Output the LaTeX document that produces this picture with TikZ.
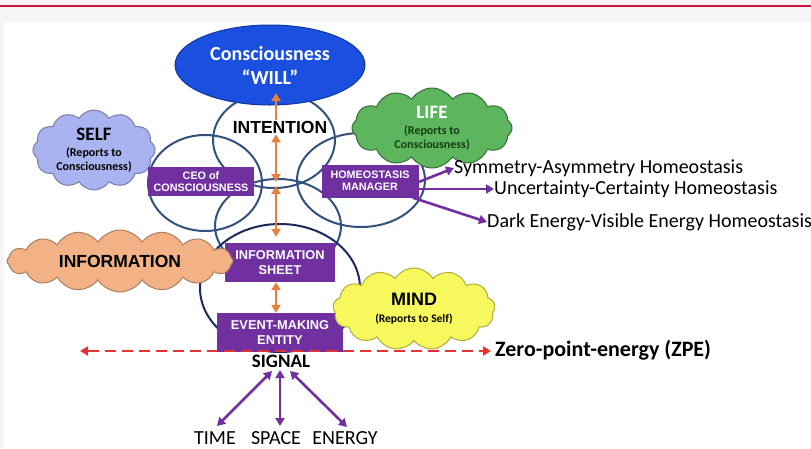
\documentclass[tikz,border=0pt]{standalone}
\usepackage{fontspec}
\setmainfont{Carlito}
\newfontfamily\arialf{Liberation Sans}
\usetikzlibrary{shapes.symbols,shapes.geometric,arrows.meta}
\definecolor{purp}{HTML}{7030A0}
\definecolor{orng}{HTML}{E8803C}
\definecolor{ringc}{HTML}{34507E}
\definecolor{bigc}{HTML}{1C2A5E}
\definecolor{willc}{HTML}{1A4FE0}
\definecolor{selfc}{HTML}{A9B3F0}
\definecolor{lifec}{HTML}{5DB55D}
\definecolor{lifet}{HTML}{163C16}
\definecolor{infoc}{HTML}{F2B285}
\definecolor{mindc}{HTML}{F7F75E}
\definecolor{zpec}{HTML}{E03434}
\definecolor{topc}{HTML}{C8143E}
\definecolor{bandc}{HTML}{F6F4F5}
\tikzset{
  >={Triangle[length=8pt,width=9pt]},
  ring/.style={ellipse, draw=ringc, line width=2pt, inner sep=0pt},
  pbox/.style={rectangle, fill=purp, text=white, font=\arialf\bfseries\fontsize{10.8}{12.5}\selectfont, align=center, inner sep=0pt},
  pboxl/.style={pbox, font=\arialf\bfseries\fontsize{12.8}{15}\selectfont},
  puff/.style={cloud, cloud puffs=12, cloud puff arc=115, cloud ignores aspect, align=center, line width=1pt, inner sep=0pt},
  oarrow/.style={draw=orng, line width=2.8pt},
  parrow/.style={draw=purp, line width=2.6pt},
  htext/.style={font=\fontsize{20}{24}\selectfont, anchor=west, inner sep=0pt},
  btext/.style={font=\fontsize{20}{22}\selectfont, inner sep=0pt},
}
\begin{document}
\begin{tikzpicture}[x=1pt,y=-1pt]
\useasboundingbox (0,0) rectangle (811,448);
\fill[bandc] (0,0) rectangle (811,448);
\fill[white] (4,22) rectangle (811,448);
\draw[topc, line width=1.5pt] (0,6) -- (811,6);

% SELF cloud (behind rings)
\node[puff, fill=selfc, draw=selfc!70!black, minimum width=122pt, minimum height=80pt,
      font=\bfseries\fontsize{12}{13.5}\selectfont] (self) at (94,150)
  {{\fontsize{19}{20}\selectfont SELF}\\[3pt](Reports to\\Consciousness)};

% rings
\node[ring, minimum width=122pt, minimum height=96pt] (rtop) at (274,140) {};
\node[ring, minimum width=114pt, minimum height=96pt] (rleft) at (205,183) {};
\node[ring, minimum width=128pt, minimum height=94pt] (rright) at (361,180) {};
\node[ring, minimum width=126pt, minimum height=94pt] (rlow) at (278,226) {};
\node[ellipse, draw=bigc, line width=2pt, minimum width=160pt, minimum height=128pt] (big) at (280,288) {};

% consciousness ellipse
\node[ellipse, fill=willc, draw=willc!70!black, line width=1pt, minimum width=190pt, minimum height=80pt,
      align=center, text=white, inner sep=0pt, font=\bfseries\fontsize{20}{24}\selectfont] (will) at (270,65)
  {Consciousness\\``WILL''};

% purple boxes
\node[pbox, minimum width=106pt, minimum height=29pt] (ceo) at (201,181.5) {CEO of\\CONSCIOUSNESS};
\node[pbox, minimum width=97pt, minimum height=33pt] (hm) at (370,181) {HOMEOSTASIS\\MANAGER};
\node[pboxl, minimum width=110pt, minimum height=39pt] (info) at (280,262.5) {INFORMATION\\SHEET};
\node[pboxl, minimum width=126pt, minimum height=39pt] (emk) at (280,332.5) {EVENT-MAKING\\ENTITY};

% intention
\node[font=\arialf\bfseries\fontsize{17.5}{20}\selectfont, inner sep=1pt] (intn) at (280,127) {INTENTION};

% orange arrows
\coordinate (wb) at (276,93);
\coordinate (mid) at (276,184);
\draw[oarrow, <-] (wb) -- (intn.north -| wb);
\draw[oarrow, <->] (intn.south -| wb) -- ([yshift=2pt]mid);
\draw[oarrow, <->] ([yshift=-2pt]mid) -- ([yshift=6pt]info.north -| wb);
\draw[oarrow, <->] (info.south -| wb) -- (emk.north -| wb);

% clouds on top
\node[puff, fill=lifec, draw=lifec!60!black, minimum width=160pt, minimum height=80pt,
      font=\bfseries\fontsize{12}{13.5}\selectfont, text=lifet] (life) at (432,128)
  {{\fontsize{19}{20}\selectfont\color{white}LIFE}\\[3pt](Reports to\\Consciousness)};
\node[puff, cloud puffs=16, fill=infoc, draw=infoc!70!black, minimum width=226pt, minimum height=62pt,
      font=\arialf\bfseries\fontsize{17.5}{20}\selectfont] (inf) at (120,261)
  {INFORMATION};
\node[puff, cloud puffs=13, fill=mindc, draw=mindc!70!black, minimum width=162pt, minimum height=82pt,
      font=\bfseries\fontsize{11.5}{13}\selectfont] (mind) at (414,309)
  {{\arialf\bfseries\fontsize{18}{20}\selectfont MIND}\\[4pt](Reports to Self)};

% homeostasis outputs
\node[htext] (sym) at (454,168) {Symmetry-Asymmetry Homeostasis};
\node[htext] (unc) at (494,189) {Uncertainty-Certainty Homeostasis};
\node[htext] (dark) at (487,222) {Dark Energy-Visible Energy Homeostasis};
\draw[parrow, ->] ([yshift=-1pt]hm.east) -- (sym.west);
\draw[parrow, ->] ([yshift=-8pt]hm.east) -- (unc.west);
\draw[parrow, ->] ([xshift=-6pt]hm.south east) -- (dark.west);

% ZPE line
\node[font=\bfseries\fontsize{22}{26}\selectfont, anchor=west, inner sep=0pt] (zpe) at (495,350) {Zero-point-energy (ZPE)};
\coordinate (zl) at (80,351);
\draw[zpec, line width=2.4pt, dash pattern=on 11pt off 6pt, <->] (zl) -- ([xshift=-4pt]zpe.west |- zl);

% signal
\node[font=\bfseries\fontsize{19}{22}\selectfont, inner sep=0pt] (sig) at (281,361) {SIGNAL};
\node[btext] (time) at (215,438) {TIME};
\node[btext] (space) at (276,438) {SPACE};
\node[btext] (energy) at (345,438) {ENERGY};
\coordinate (ts) at (272,371);
\coordinate (ss) at (280,370);
\coordinate (es) at (290,371);
\coordinate (te) at (217,426);
\coordinate (se) at (280,426);
\coordinate (ee) at (347,427);
\draw[parrow, <->] (ts) -- (te);
\draw[parrow, <->] (ss) -- (se);
\draw[parrow, <->] (es) -- (ee);
\end{tikzpicture}
\end{document}
